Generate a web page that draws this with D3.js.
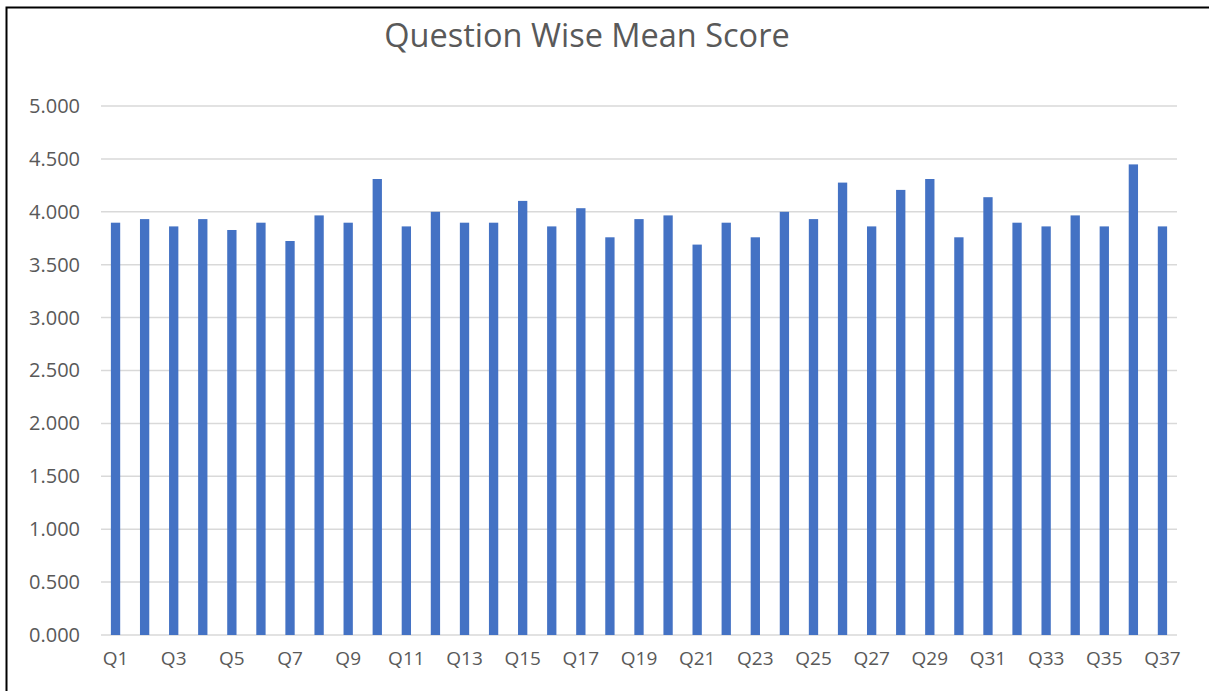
<!DOCTYPE html>
<html>
<head>
<meta charset="utf-8">
<script src="https://cdn.jsdelivr.net/npm/d3@7"></script>
<style>
  body { margin: 0; background: #fff; }
  text { font-family: "Open Sans", "Noto Sans", sans-serif; fill: #595959; }
</style>
</head>
<body>
<svg></svg>
<script>
var width = 1209;
var height = 691;

// question labels and mean scores
var questions = d3.range(1, 38).map(i => "Q" + i);
var scores = [3.897, 3.931, 3.862, 3.931, 3.828, 3.897, 3.724, 3.966, 3.897, 4.310,
              3.862, 4.000, 3.897, 3.897, 4.103, 3.862, 4.034, 3.759, 3.931, 3.966,
              3.690, 3.897, 3.759, 4.000, 3.931, 4.276, 3.862, 4.207, 4.310, 3.759,
              4.138, 3.897, 3.862, 3.966, 3.862, 4.448, 3.862];
var yTicks = [0, 0.5, 1, 1.5, 2, 2.5, 3, 3.5, 4, 4.5, 5];

var data = questions.map((q, i) => ({q: q, v: scores[i]}));

var plotLeft = 101, plotRight = 1177, plotTop = 106, plotBottom = 635;

var svg = d3.select("svg")
    .attr("width", width)
    .attr("height", height);

// chart frame (only top and left edges are visible)
svg.append("path")
    .attr("d", `M6.5,${height} V7.5 H${width}`)
    .attr("fill", "none")
    .attr("stroke", "#000")
    .attr("stroke-width", 2);

var xScale = d3.scaleBand()
    .domain(questions)
    .range([plotLeft, plotRight])
    .paddingInner(0.68)
    .paddingOuter(0.34);

var yScale = d3.scaleLinear()
    .domain([0, 5])
    .range([plotBottom, plotTop]);

// gridlines
svg.append("g")
    .selectAll("line")
    .data(yTicks)
    .enter()
    .append("line")
    .attr("x1", plotLeft)
    .attr("x2", plotRight)
    .attr("y1", d => yScale(d))
    .attr("y2", d => yScale(d))
    .attr("stroke", "#d9d9d9")
    .attr("stroke-width", 1.5);

var yAxis = d3.axisLeft(yScale)
    .tickValues(yTicks)
    .tickFormat(d3.format(".3f"))
    .tickSize(0)
    .tickPadding(21);

svg.append("g")
    .classed("y-axis", true)
    .attr("transform", `translate(${plotLeft},0)`)
    .call(yAxis)
    .call(g => g.select(".domain").remove())
    .selectAll("text")
    .style("font-size", "20px")
    .attr("fill", "#595959");

var xAxis = d3.axisBottom(xScale)
    .tickValues(questions.filter((q, i) => i % 2 === 0))
    .tickSize(0)
    .tickPadding(17);

svg.append("g")
    .classed("x-axis", true)
    .attr("transform", `translate(0,${plotBottom})`)
    .call(xAxis)
    .call(g => g.select(".domain").remove())
    .selectAll("text")
    .style("font-size", "19px")
    .attr("fill", "#595959");

svg.append("g")
    .selectAll("rect")
    .data(data)
    .enter()
    .append("rect")
    .attr("x", d => xScale(d.q))
    .attr("y", d => yScale(d.v))
    .attr("width", xScale.bandwidth())
    .attr("height", d => yScale(0) - yScale(d.v))
    .attr("fill", "#4472c4");

svg.append("text")
    .attr("x", 587)
    .attr("y", 47)
    .style("text-anchor", "middle")
    .style("font-size", "32.5px")
    .text("Question Wise Mean Score");
</script>
</body>
</html>
